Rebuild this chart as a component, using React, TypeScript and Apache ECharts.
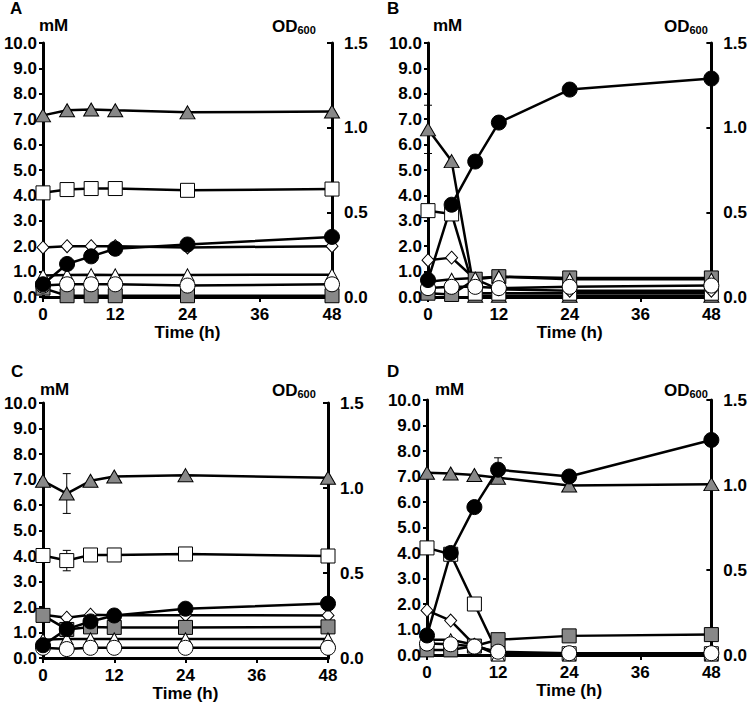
import React, { useEffect, useRef } from "react";
import * as echarts from "echarts";

// ---- data ----
const TIME = [0, 4, 8, 12, 24, 48];
const PANELS = ["A", "B", "C", "D"];

// series per panel (mM, left axis)
const A_GRAY_TRI = [7.15, 7.35, 7.38, 7.35, 7.27, 7.3];
const A_WHITE_SQ = [4.1, 4.23, 4.27, 4.27, 4.2, 4.25];
const A_DIAMOND = [1.95, 2.0, 2.0, 2.0, 1.95, 2.0];
const A_GRAY_SQ = [0.35, 0.05, 0.05, 0.05, 0.05, 0.05];
const A_WHITE_TRI = [0.85, 0.87, 0.88, 0.87, 0.87, 0.88];
const A_WHITE_CIR = [0.45, 0.5, 0.5, 0.5, 0.45, 0.5];
const A_OD = [0.075, 0.195, 0.24, 0.285, 0.31, 0.355];

const B_GRAY_TRI = [6.6, 5.35, 0.05, 0.05, 0.05, 0.05];
const B_WHITE_SQ = [3.4, 3.27, 0.15, 0.15, 0.15, 0.15];
const B_DIAMOND = [1.45, 1.55, 0.7, 0.3, 0.25, 0.25];
const B_GRAY_SQ = [0.15, 0.1, 0.7, 0.8, 0.75, 0.75];
const B_WHITE_TRI = [0.6, 0.7, 0.75, 0.8, 0.7, 0.7];
const B_WHITE_CIR = [0.35, 0.4, 0.4, 0.35, 0.4, 0.45];
const B_OD = [0.1, 0.545, 0.8, 1.03, 1.225, 1.29];

const C_GRAY_TRI = [6.95, 6.45, 6.95, 7.12, 7.17, 7.07];
const C_WHITE_SQ = [4.02, 3.82, 4.04, 4.04, 4.08, 4.0];
const C_DIAMOND = [1.7, 1.58, 1.7, 1.68, 1.68, 1.67];
const C_GRAY_SQ = [1.67, 1.12, 1.22, 1.2, 1.2, 1.22];
const C_WHITE_TRI = [0.72, 0.75, 0.75, 0.75, 0.75, 0.75];
const C_WHITE_CIR = [0.4, 0.35, 0.4, 0.4, 0.4, 0.4];
const C_OD = [0.075, 0.17, 0.215, 0.25, 0.29, 0.32];

const D_GRAY_TRI = [7.15, 7.12, 7.06, 6.95, 6.65, 6.7];
const D_WHITE_SQ = [4.2, 3.95, 2.0, 0.05, 0.05, 0.05];
const D_DIAMOND = [1.75, 1.35, 0.4, 0.05, 0.05, 0.05];
const D_GRAY_SQ = [0.2, 0.2, 0.35, 0.6, 0.75, 0.8];
const D_WHITE_TRI = [0.6, 0.6, 0.4, 0.0, 0.0, 0.0];
const D_WHITE_CIR = [0.45, 0.42, 0.33, 0.13, 0.07, 0.07];
const D_OD = [0.115, 0.6, 0.87, 1.09, 1.05, 1.265];

// error bars: [time, value, error, axis: 0=mM, 1=OD]
const A_ERR: number[][] = [];
const B_ERR = [[0, 6.6, 0.95, 0]];
const C_ERR = [
  [4, 6.45, 0.78, 0],
  [4, 3.82, 0.4, 0],
];
const D_ERR = [[12, 1.09, 0.07, 1]];

const PANEL_DATA = [
  { grayTri: A_GRAY_TRI, whiteSq: A_WHITE_SQ, diamond: A_DIAMOND, graySq: A_GRAY_SQ, whiteTri: A_WHITE_TRI, whiteCir: A_WHITE_CIR, od: A_OD, err: A_ERR },
  { grayTri: B_GRAY_TRI, whiteSq: B_WHITE_SQ, diamond: B_DIAMOND, graySq: B_GRAY_SQ, whiteTri: B_WHITE_TRI, whiteCir: B_WHITE_CIR, od: B_OD, err: B_ERR },
  { grayTri: C_GRAY_TRI, whiteSq: C_WHITE_SQ, diamond: C_DIAMOND, graySq: C_GRAY_SQ, whiteTri: C_WHITE_TRI, whiteCir: C_WHITE_CIR, od: C_OD, err: C_ERR },
  { grayTri: D_GRAY_TRI, whiteSq: D_WHITE_SQ, diamond: D_DIAMOND, graySq: D_GRAY_SQ, whiteTri: D_WHITE_TRI, whiteCir: D_WHITE_CIR, od: D_OD, err: D_ERR },
];

// ---- layout ----
const GRIDS = [
  { left: 43, top: 43, width: 289, height: 254 },
  { left: 428, top: 43, width: 285, height: 254 },
  { left: 43, top: 403, width: 285, height: 255 },
  { left: 427, top: 400, width: 286, height: 255 },
];
const HEAD = [
  { lx: 10, ly: 8, mx: 39, my: 25, ox: 272, oy: 26 },
  { lx: 387, ly: 8, mx: 433, my: 25, ox: 664, oy: 26 },
  { lx: 11, ly: 371, mx: 40, my: 389, ox: 272, oy: 390 },
  { lx: 387, ly: 371, mx: 435, my: 389, ox: 664, oy: 390 },
];

const FONT = "'Liberation Sans', Arial, sans-serif";
const GRAY = "#888888";
const BLACK = "#000000";
const FS = 17;

function buildOption() {
  const grid: any[] = [];
  const xAxis: any[] = [];
  const yAxis: any[] = [];
  const series: any[] = [];
  const graphic: any[] = [];

  PANEL_DATA.forEach((p, i) => {
    grid.push({ ...GRIDS[i], containLabel: false });
    xAxis.push({
      type: "value",
      gridIndex: i,
      min: 0,
      max: 48,
      interval: 12,
      name: "Time (h)",
      nameLocation: "middle",
      nameGap: 27,
      nameTextStyle: { fontFamily: FONT, fontWeight: "bold", fontSize: FS, color: BLACK },
      axisLine: { show: true, onZero: false, lineStyle: { color: BLACK, width: 3 } },
      axisTick: { show: true, length: 5, lineStyle: { color: BLACK, width: 2 } },
      axisLabel: { fontFamily: FONT, fontWeight: "bold", fontSize: FS, color: BLACK, margin: 9 },
      splitLine: { show: false },
    });
    yAxis.push({
      type: "value",
      gridIndex: i,
      min: 0,
      max: 10,
      interval: 1,
      position: "left",
      axisLine: { show: true, lineStyle: { color: BLACK, width: 3 } },
      axisTick: { show: true, length: 4, lineStyle: { color: BLACK, width: 2 } },
      axisLabel: {
        fontFamily: FONT,
        fontWeight: "bold",
        fontSize: FS,
        color: BLACK,
        margin: 6,
        formatter: (v: number) => v.toFixed(1),
      },
      splitLine: { show: false },
    });
    yAxis.push({
      type: "value",
      gridIndex: i,
      min: 0,
      max: 1.5,
      interval: 0.5,
      position: "right",
      axisLine: { show: true, lineStyle: { color: BLACK, width: 3 } },
      axisTick: { show: true, inside: true, length: 5, lineStyle: { color: BLACK, width: 2 } },
      axisLabel: {
        fontFamily: FONT,
        fontWeight: "bold",
        fontSize: FS,
        color: BLACK,
        margin: 12,
        formatter: (v: number) => v.toFixed(1),
      },
      splitLine: { show: false },
    });

    const mk = (name: string, vals: number[], symbol: string, size: any, fill: string, yIdx: number) => ({
      type: "line",
      name,
      xAxisIndex: i,
      yAxisIndex: i * 2 + yIdx,
      data: TIME.map((t, k) => [t, vals[k]]),
      symbol,
      symbolSize: size,
      showAllSymbol: true,
      clip: false,
      lineStyle: { color: BLACK, width: 2.5 },
      itemStyle: { color: fill, borderColor: BLACK, borderWidth: 1 },
      emphasis: { disabled: true },
    });

    series.push(mk("gray triangle", p.grayTri, "triangle", [15, 13], GRAY, 0));
    series.push(mk("white square", p.whiteSq, "rect", 14, "#ffffff", 0));
    series.push(mk("white diamond", p.diamond, "diamond", [12, 13], "#ffffff", 0));
    series.push(mk("gray square", p.graySq, "rect", 14, GRAY, 0));
    series.push(mk("white triangle", p.whiteTri, "triangle", [13, 12], "#ffffff", 0));
    series.push(mk("white circle", p.whiteCir, "circle", 15, "#ffffff", 0));
    series.push(mk("OD600", p.od, "circle", 15, BLACK, 1));

    [0, 1].forEach((ax) => {
      const errs = p.err.filter((e) => e[3] === ax);
      if (!errs.length) return;
      series.push({
        type: "custom",
        xAxisIndex: i,
        yAxisIndex: i * 2 + ax,
        data: errs.map((e) => [e[0], e[1], e[2]]),
        z: 1,
        clip: false,
        renderItem: (params: any, api: any) => {
          const x = api.value(0);
          const v = api.value(1);
          const e = api.value(2);
          const hi = api.coord([x, v + e]);
          const lo = api.coord([x, v - e]);
          const w = 4;
          const st = { stroke: BLACK, lineWidth: 1 };
          return {
            type: "group",
            children: [
              { type: "line", shape: { x1: hi[0], y1: hi[1], x2: lo[0], y2: lo[1] }, style: st },
              { type: "line", shape: { x1: hi[0] - w, y1: hi[1], x2: hi[0] + w, y2: hi[1] }, style: st },
              { type: "line", shape: { x1: lo[0] - w, y1: lo[1], x2: lo[0] + w, y2: lo[1] }, style: st },
            ],
          };
        },
      });
    });

    const h = HEAD[i];
    graphic.push({
      type: "text",
      x: h.lx,
      y: h.ly,
      style: { text: PANELS[i], font: `bold ${FS}px ${FONT}`, fill: BLACK, verticalAlign: "middle" },
    });
    graphic.push({
      type: "text",
      x: h.mx,
      y: h.my,
      style: { text: "mM", font: `bold ${FS}px ${FONT}`, fill: BLACK, verticalAlign: "middle" },
    });
    graphic.push({
      type: "text",
      x: h.ox,
      y: h.oy,
      style: {
        text: "{a|OD}{b|600}",
        font: `bold ${FS}px ${FONT}`,
        fill: BLACK,
        verticalAlign: "middle",
        rich: {
          a: { font: `bold ${FS}px ${FONT}`, fill: BLACK, lineHeight: 18, verticalAlign: "middle" },
          b: { font: `bold 11px ${FONT}`, fill: BLACK, lineHeight: 18, verticalAlign: "bottom", padding: [8, 0, 0, 0] },
        },
      },
    });
  });

  return {
    animation: false,
    backgroundColor: "#ffffff",
    grid,
    xAxis,
    yAxis,
    series,
    graphic,
  };
}

export default function App() {
  const ref = useRef<HTMLDivElement>(null);
  useEffect(() => {
    if (!ref.current) return;
    const chart = echarts.init(ref.current, null, { renderer: "svg" });
    chart.setOption(buildOption() as any);
    return () => chart.dispose();
  }, []);
  return (
    <div
      ref={ref}
      style={{ position: "absolute", left: 0, top: 0, width: 750, height: 706, background: "#fff" }}
    />
  );
}
